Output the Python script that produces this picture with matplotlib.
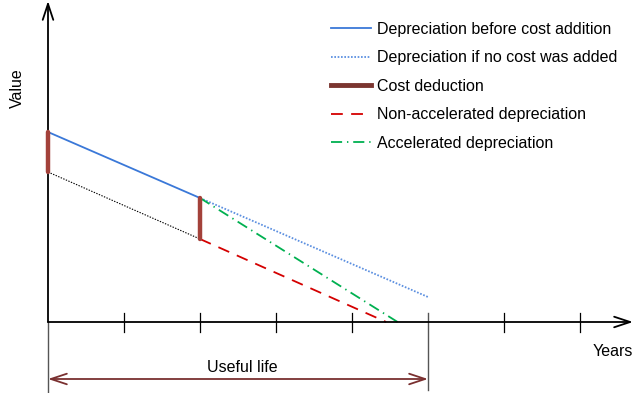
import matplotlib
matplotlib.use("Agg")
import matplotlib.pyplot as plt
from matplotlib.lines import Line2D

plt.rcParams['font.family'] = ['Liberation Sans', 'DejaVu Sans']
plt.rcParams['lines.scale_dashes'] = False

# values (x in years, y in arbitrary value units)
years_before = [0, 2]
value_before = [19.0, 12.4]
years_no_add = [2, 5]
value_no_add = [12.4, 2.5]
years_base = [0, 2]
value_base = [15.0, 8.3]
cost_years = [0, 2]
cost_top = [19.0, 12.4]
cost_bottom = [15.0, 8.3]
years_nonacc = [2, 4.45]
value_nonacc = [8.3, 0]
years_acc = [2, 4.6]
value_acc = [12.4, 0]
tick_years = [1, 2, 3, 4, 6, 7]
useful_life = 5

W, H = 635, 393
FS = 11.5
fig = plt.figure(figsize=(W / 100, H / 100), dpi=100)
ax = fig.add_axes([0, 0, 1, 1])
# 1 year = 76 px, origin at px (48, 322), 1 value unit = 10 px
ax.set_xlim(-48 / 76, (W - 48) / 76)
ax.set_ylim(-(H - 322) / 10, 322 / 10)
ax.axis('off')

arrow = dict(arrowstyle='->,head_length=1.15,head_width=0.38', color='black', lw=1.3,
             shrinkA=0, shrinkB=0)
# axes with open arrow heads
ax.annotate('', xy=(0, 32.1), xytext=(0, 0), arrowprops=arrow, annotation_clip=False)
ax.annotate('', xy=(585 / 76, 0), xytext=(0, 0), arrowprops=arrow, annotation_clip=False)
for t in tick_years:
    ax.plot([t, t], [-1.0, 0.9], color='black', lw=0.9)
# gray extension lines for the useful life span
ax.plot([0, 0], [0, -7.2], color='#555555', lw=1)
ax.plot([useful_life, useful_life], [0.9, -6.8], color='#555555', lw=1)
ax.annotate('', xy=(useful_life, -5.7), xytext=(0, -5.7),
            arrowprops=dict(arrowstyle='<->,head_length=1.15,head_width=0.38', color='#7a3030', lw=1.3,
                            shrinkA=0, shrinkB=0))
ax.text(2.56, -4.6, 'Useful life', ha='center', va='center', fontsize=FS)
ax.text(7.43, -3.0, 'Years', ha='center', va='center', fontsize=FS)
ax.text(-0.4, 23.4, 'Value', ha='center', va='center', fontsize=FS, rotation=90)

# series
l1, = ax.plot(years_before, value_before, color='#3a78d8', lw=1.3)
l2, = ax.plot(years_no_add, value_no_add, color='#5b8fe0', lw=1.3, linestyle=(0, (1.2, 1.2)))
ax.plot(years_base, value_base, color='black', lw=0.8, linestyle=(0, (1, 1)))
l4, = ax.plot(years_nonacc, value_nonacc, color='#d40000', lw=1.3, linestyle=(0, (8.5, 6)))
l5, = ax.plot(years_acc, value_acc, color='#00b050', lw=1.3, linestyle=(0, (8, 3.5, 1, 3.5)))
for x, top, bot in zip(cost_years, cost_top, cost_bottom):
    ax.plot([x, x], [top, bot], color='#a3413a', lw=3.2, solid_capstyle='round', zorder=4)

cost_handle = Line2D([], [], color='#7b3530', lw=3.5)
ax.legend([l1, l2, cost_handle, l4, l5],
          ['Depreciation before cost addition', 'Depreciation if no cost was added',
           'Cost deduction', 'Non-accelerated depreciation', 'Accelerated depreciation'],
          loc='upper left', bbox_to_anchor=(331 / W, 1 - 22 / H), bbox_transform=fig.transFigure,
          frameon=False, fontsize=FS, handlelength=2.5, handletextpad=0.4, labelspacing=0.84,
          borderpad=0, borderaxespad=0)

fig.savefig('out.png', dpi=100)
